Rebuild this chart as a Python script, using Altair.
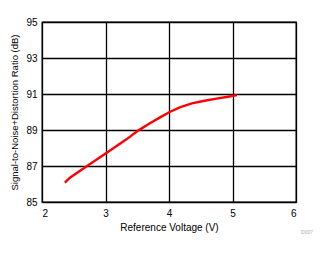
import altair as alt
import pandas as pd

vref = [2.36, 2.44, 2.71, 3.02, 3.33, 3.52, 3.70, 3.86, 4.01, 4.17, 4.36, 4.54, 4.75, 4.93, 5.07]
sinad = [86.08, 86.35, 87.0, 87.74, 88.48, 88.98, 89.37, 89.7, 90.0, 90.26, 90.48, 90.61, 90.74, 90.85, 90.94]
x_ticks = [2, 3, 4, 5, 6]
y_ticks = [85, 87, 89, 91, 93, 95]

df = pd.DataFrame({"v": vref, "s": sinad})
FONT = "Liberation Sans"

line = alt.Chart(df).mark_line(color="#FF0000", strokeWidth=2.4).encode(
    x=alt.X("v:Q", scale=alt.Scale(domain=[2, 6], nice=False),
            axis=alt.Axis(values=x_ticks, title="Reference Voltage (V)", format="d",
                          grid=True, gridColor="black", gridWidth=1.3,
                          domain=False, ticks=False, labelPadding=6,
                          labelFont=FONT, labelFontSize=10, labelColor="black",
                          titleFont=FONT, titleFontSize=10, titleFontWeight="normal",
                          titleColor="black", titlePadding=4)),
    y=alt.Y("s:Q", scale=alt.Scale(domain=[85, 95], nice=False, zero=False),
            axis=alt.Axis(values=y_ticks, title="Signal-to-Noise+Distortion Ratio (dB)", format="d",
                          grid=True, gridColor="black", gridWidth=1.3,
                          domain=False, ticks=False, labelPadding=5,
                          labelFont=FONT, labelFontSize=10, labelColor="black",
                          titleFont=FONT, titleFontSize=9.5, titleFontWeight="normal",
                          titleColor="black", titlePadding=6)),
)

note = alt.Chart(pd.DataFrame({"t": ["D007"]})).mark_text(
    font=FONT, fontSize=5, color="#aaaaaa", align="center", baseline="middle"
).encode(text="t:N", x=alt.value(265), y=alt.value(210))

chart = (line + note).properties(
    width=254, height=180,
    autosize=alt.AutoSizeParams(type="none"),
    padding={"left": 42, "top": 22, "right": 33, "bottom": 52},
).configure_view(stroke="black", strokeWidth=1.3)

chart.save("out.html", embed_options={"renderer": "svg", "actions": False})
